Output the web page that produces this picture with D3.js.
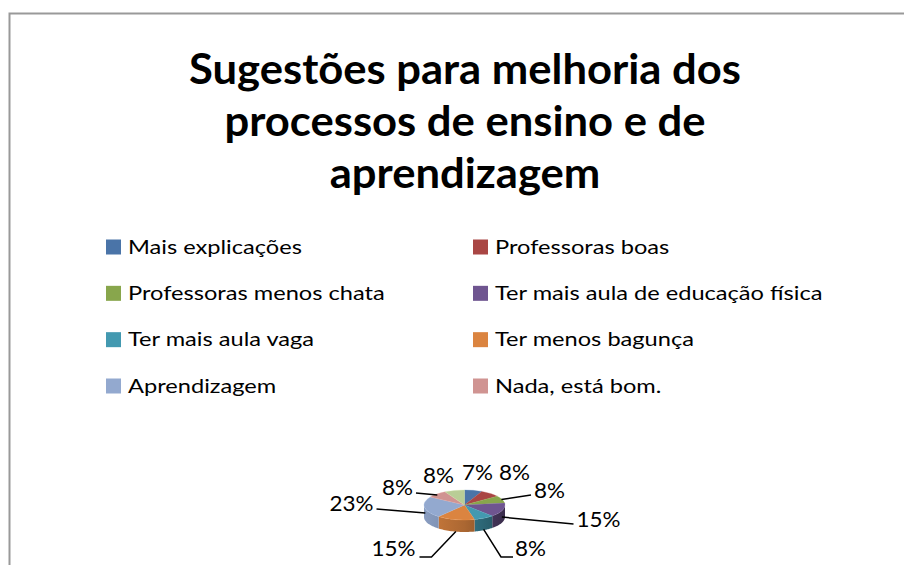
<!DOCTYPE html>
<html><head><meta charset="utf-8">
<script src="https://cdn.jsdelivr.net/npm/d3@7/dist/d3.min.js"></script>
<style>html,body{margin:0;padding:0;background:#fff;overflow:hidden}</style>
</head><body>
<svg id="c" width="904" height="565"></svg>
<script>
// ---- data ----
const titleLines = ["Sugestões para melhoria dos", "processos de ensino e de", "aprendizagem"];
const categories = ["Mais explicações", "Professoras boas", "Professoras menos chata",
  "Ter mais aula de educação física", "Ter mais aula vaga", "Ter menos bagunça",
  "Aprendizagem", "Nada, está bom.", "Outro"];
const values = [7, 8, 8, 15, 8, 15, 23, 8, 8];
const colors = ["#4a74a8", "#a94644", "#88a64c", "#6f5590", "#4399b0", "#db8440",
  "#93a9cf", "#d09492", "#b9cd96"];
const legendCount = 8; // legend in the reference shows only the first eight entries
// label layout (text centre relative to pie centre) and leader style
const labelOffsets = [[13,-33],[50,-33],[85,-15],[134,14],[66,43],[-71,43],[-113,-2],[-67,-18],[-26,-30]];
const leaderKind = ["none","none","straight","straight","elbow","elbow","straight","straight","none"];

const svg = d3.select("#c");
const FONT = "Lato, 'Open Sans', sans-serif";
const CAP = 0.7165; // Lato cap-height ratio

// border
svg.append("path").attr("d", "M9.5,575 L9.5,13.5 L915,13.5")
  .attr("fill", "none").attr("stroke", "#999").attr("stroke-width", 2);

function fit(sel, target) {
  const w = sel.node().getComputedTextLength();
  const fs = parseFloat(sel.attr("font-size"));
  return fs * target / w;
}
// enlarge text to a cap height while keeping its fitted width
function stretch(sel, fitFs, capPx) {
  const w = sel.node().getComputedTextLength();
  const k = capPx / (CAP * fitFs);
  sel.attr("font-size", fitFs * k).attr("textLength", w).attr("lengthAdjust", "spacingAndGlyphs");
}

// title
const cx = 465;
const baselines = [84, 136, 188];
const tt = svg.append("g");
const t0 = tt.append("text").attr("font-family", FONT).attr("font-weight", 700)
  .attr("font-size", 40).text(titleLines[0]);
const titleFs = fit(t0, 552);
t0.remove();
titleLines.forEach((l, i) => {
  const t = tt.append("text").attr("x", cx).attr("y", baselines[i]).attr("text-anchor", "middle")
    .attr("font-family", FONT).attr("font-weight", 700).attr("font-size", titleFs)
    .attr("fill", "#000").text(l);
  stretch(t, titleFs, 30.5);
});

// legend
const lg = svg.append("g");
const l0 = lg.append("text").attr("font-family", FONT).attr("font-size", 20).text(categories[0]);
const legFs = fit(l0, 174);
l0.remove();
const colX = d3.scalePoint().domain([0, 1]).range([106, 473]);
const rowY = d3.scaleLinear().domain([0, 3]).range([247, 386]);
categories.slice(0, legendCount).forEach((c, i) => {
  const x = colX(i % 2), y = rowY(Math.floor(i / 2));
  lg.append("rect").attr("x", x).attr("y", y - 7.5).attr("width", 15).attr("height", 15)
    .attr("fill", colors[i]);
  const t = lg.append("text").attr("x", x + 22).attr("y", y + 6.7)
    .attr("font-family", FONT).attr("font-size", legFs).attr("fill", "#000").text(c);
  stretch(t, legFs, 13.5);
});

// 3D pie
const pcx = 464.5, pcy = 505, rx = 40.5, ry = 15, depth = 12;
const pieData = d3.pie().sort(null).value(d => d)(values);
const defs = svg.append("defs");
colors.forEach((c, i) => {
  const g = defs.append("linearGradient").attr("id", "side" + i)
    .attr("gradientUnits", "userSpaceOnUse")
    .attr("x1", pcx - rx).attr("x2", pcx + rx).attr("y1", 0).attr("y2", 0);
  g.append("stop").attr("offset", "0").attr("stop-color", d3.color(c).darker(0.2));
  g.append("stop").attr("offset", "0.5").attr("stop-color", d3.color(c).darker(0.7));
  g.append("stop").attr("offset", "1").attr("stop-color", d3.color(c).darker(1.8));
});
const ex = a => pcx + Math.sin(a) * rx;
const ey = a => pcy - Math.cos(a) * ry;
const pg = svg.append("g");
// side walls (front half only)
pieData.forEach((p, i) => {
  const s = Math.max(p.startAngle, Math.PI / 2), e = Math.min(p.endAngle, 3 * Math.PI / 2);
  if (e <= s) return;
  const n = 24, pts = [];
  for (let k = 0; k <= n; k++) { const a = s + (e - s) * k / n; pts.push([ex(a), ey(a)]); }
  for (let k = n; k >= 0; k--) { const a = s + (e - s) * k / n; pts.push([ex(a), ey(a) + depth]); }
  pg.append("path").attr("d", d3.line()(pts) + "Z").attr("fill", `url(#side${i})`);
});
// top faces
const arcGen = d3.arc().innerRadius(0).outerRadius(rx);
const topFace = pg.append("g").attr("transform", `translate(${pcx},${pcy}) scale(1,${ry / rx})`);
pieData.forEach((p, i) => {
  topFace.append("path").attr("d", arcGen(p)).attr("fill", colors[i])
    .attr("stroke", d3.color(colors[i]).brighter(0.3)).attr("stroke-width", 0.4);
});

// labels
const lab = svg.append("g");
const m0 = lab.append("text").attr("font-family", FONT).attr("font-size", 22).text("15%");
const labFs = fit(m0, 44);
m0.remove();
pieData.forEach((p, i) => {
  const [dx, dy] = labelOffsets[i];
  const tx = pcx + dx, ty = pcy + dy;
  const t = lab.append("text").attr("x", tx).attr("y", ty + 7.8)
    .attr("text-anchor", "middle").attr("font-family", FONT).attr("font-size", labFs)
    .attr("fill", "#000").text(Math.round(p.value) + "%");
  const hw = t.node().getComputedTextLength() / 2;
  stretch(t, labFs, 15.5);
  if (leaderKind[i] === "none") return;
  const a = (p.startAngle + p.endAngle) / 2;
  const ax = ex(a) * 0.98 + pcx * 0.02;
  const ay = ey(a) + depth * Math.sqrt(Math.max(0, -Math.cos(a)));
  const right = dx > 0;
  let pts;
  if (leaderKind[i] === "straight") {
    const endX = right ? tx - hw - 3 : tx + hw + 3;
    pts = [[ax, ay + (right ? 0 : 1)], [endX, ty + (right ? 5 : 6)]];
  } else {
    const endX = right ? tx - hw - 2 : tx + hw + 4;
    const ly = ty + 9;
    const elbowX = right ? endX - 12 : endX + 12;
    pts = [[ax, ay], [elbowX, ly], [endX, ly]];
  }
  lab.append("path").attr("d", d3.line()(pts)).attr("fill", "none")
    .attr("stroke", "#000").attr("stroke-width", 1.5);
});
</script>
</body></html>
